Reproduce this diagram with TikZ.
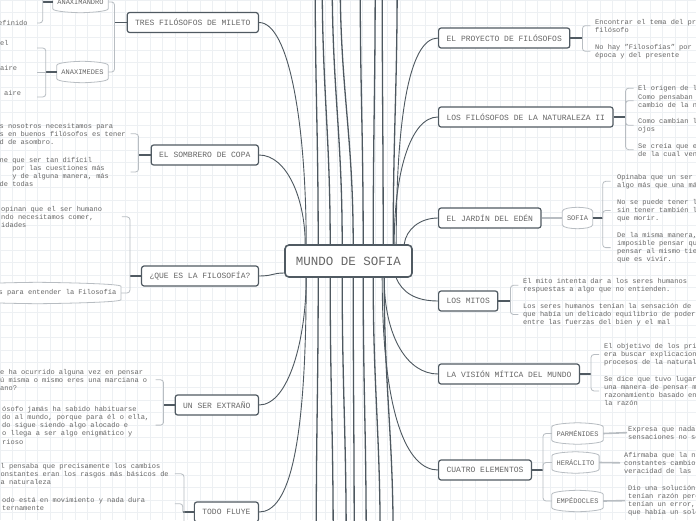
\documentclass[tikz,border=0pt]{standalone}
\usepackage{fontspec}
\setmainfont{Liberation Mono}
\usetikzlibrary{calc}
\definecolor{gridc}{HTML}{EDF0F3}
\definecolor{nodeb}{HTML}{505A62}
\definecolor{txt}{HTML}{666666}
\definecolor{brc}{HTML}{B8BDC2}
\definecolor{conn}{HTML}{4E5860}
\pgfdeclarelayer{gridl}
\pgfdeclarelayer{bg}
\pgfsetlayers{gridl,bg,main}
\newcommand{\wavy}[1]{\draw[brl,rounded corners=0pt,fill=white] ($(#1.north west)+(0,3)$) .. controls ($(#1.north west)+(0,0)$) and ($(#1.north)+(-6,-1)$) .. ($(#1.north)+(0,-1)$) .. controls ($(#1.north)+(6,-1)$) and ($(#1.north east)+(0,0)$) .. ($(#1.north east)+(0,3)$) -- ($(#1.south east)+(0,-3)$) .. controls ($(#1.south east)+(0,0)$) and ($(#1.south)+(6,1)$) .. ($(#1.south)+(0,1)$) .. controls ($(#1.south)+(-6,1)$) and ($(#1.south west)+(0,0)$) .. ($(#1.south west)+(0,-3)$) -- cycle;}
\begin{document}
\begin{tikzpicture}[x=1pt,y=-1pt,
  mainn/.style={draw=nodeb, line width=1.2pt, rounded corners=2.5pt, fill=white, text=txt, font=\fontsize{8}{9.6}\selectfont, minimum height=20pt, inner xsep=8pt, inner ysep=0pt},
  centraln/.style={draw=nodeb, line width=1.6pt, rounded corners=4pt, fill=white, text=txt, font=\fontsize{12.5}{14}\selectfont, minimum height=32pt, inner xsep=11pt, inner ysep=0pt},
  subn/.style={text=txt, font=\fontsize{7}{8}\selectfont, minimum height=19pt, inner xsep=4.5pt, inner ysep=0pt},
  leaf/.style={text=txt, font=\fontsize{7}{8.3}\selectfont, align=left, inner sep=0pt, anchor=base west},
  brl/.style={draw=brc, line width=0.8pt, rounded corners=3pt},
  link/.style={draw=nodeb, line width=1.5pt},
  lightlink/.style={draw=brc, line width=1.6pt},
  branch/.style={draw=conn, line width=0.9pt},
  far/.style={draw=conn, line width=1.3pt}]
\useasboundingbox (0,0) rectangle (696,520);
\clip (0,0) rectangle (696,520);
\begin{pgfonlayer}{gridl}
\fill[white] (0,0) rectangle (696,520);
\foreach \i in {0,...,56} \draw[gridc,line width=0.6pt] (\i*12.5,0) -- (\i*12.5,520);
\foreach \j in {0,...,42} \draw[gridc,line width=0.6pt] (0,\j*12.5) -- (696,\j*12.5);
\end{pgfonlayer}

% central and main nodes
\node[centraln] (C) at (348.5,261) {MUNDO DE SOFIA};
\node[mainn, anchor=east] (tres) at (259,22.5) {TRES FILÓSOFOS DE MILETO};
\node[mainn, anchor=east] (somb) at (259,155) {EL SOMBRERO DE COPA};
\node[mainn, anchor=east] (que) at (259,276) {¿QUE ES LA FILOSOFÍA?};
\node[mainn, anchor=east] (unser) at (259,405) {UN SER EXTRAÑO};
\node[mainn, anchor=east] (todo) at (259,512) {TODO FLUYE};
\node[mainn, anchor=west] (proy) at (438,38) {EL PROYECTO DE FILÓSOFOS};
\node[mainn, anchor=west] (nat) at (438,117) {LOS FILÓSOFOS DE LA NATURALEZA II};
\node[mainn, anchor=west] (jard) at (438,218) {EL JARDÍN DEL EDÉN};
\node[mainn, anchor=west] (mitos) at (438,301) {LOS MITOS};
\node[mainn, anchor=west] (vis) at (438,374) {LA VISIÓN MÍTICA DEL MUNDO};
\node[mainn, anchor=west] (cuat) at (438,470) {CUATRO ELEMENTOS};

% sub nodes
\node[subn] (anxd) at (80.5,2) {ANAXIMANDRO};
\node[subn] (anxm) at (82.5,72) {ANAXIMEDES};
\node[subn] (sofia) at (577.5,218) {SOFIA};
\node[subn] (parm) at (577.5,433.5) {PARMÉNIDES};
\node[subn] (herac) at (575.5,462.5) {HERÁCLITO};
\node[subn] (empe) at (577.5,501) {EMPÉDOCLES};
\node[subn, anchor=east] (q2) at (121,293) {\hspace*{40pt}s para entender la Filosofía};

% leaves right (anchor = baseline of last line)
\node[leaf] (p1) at (595,32.3) {Encontrar el tema del propio\\filósofo};
\node[leaf] (p2) at (595,57.3) {No hay "Filosofías" por encima de su\\época y del presente};
\node[leaf] (n1) at (638,90) {El origen de la vida};
\node[leaf] (n2) at (638,107.3) {Como pensaban los filósofos el\\cambio de la naturaleza};
\node[leaf] (n3) at (638,131.3) {Como cambian las cosas ante nuestros\\ojos};
\node[leaf] (n4) at (638,156.3) {Se creía que existía una sustancia\\de la cual venían todas las cosas};
\node[leaf] (s1) at (617,187.3) {Opinaba que un ser humano era\\algo más que una máquina};
\node[leaf] (s2) at (617,220.6) {No se puede tener la vida\\sin tener también la certeza de\\que morir.};
\node[leaf] (s3) at (617,261.9) {De la misma manera, es\\imposible pensar que uno\\pensar al mismo tiempo\\que es vivir.};
\node[leaf] (m1) at (523,291.3) {El mito intenta dar a los seres humanos\\respuestas a algo que no entienden.};
\node[leaf] (m2) at (523,324.6) {Los seres humanos tenían la sensación de\\que había un delicado equilibrio de poder\\entre las fuerzas del bien y el mal};
\node[leaf] (v1) at (604,364.6) {El objetivo de los primeros filósofos\\era buscar explicaciones naturales a los\\procesos de la naturaleza};
\node[leaf] (v2) at (604,405.9) {Se dice que tuvo lugar el paso de\\una manera de pensar mítica a un\\razonamiento basado en la experiencia y\\la razón};
\node[leaf] (c1) at (628,439.3) {Expresa que nada puede cambiar y las\\sensaciones no son fiables};
\node[leaf] (c2) at (624,473.6) {Afirmaba que la naturaleza tiene\\constantes cambios y confiaba en la\\veracidad de las sensaciones};
\node[leaf] (c3) at (628,514.9) {Dio una solución: ambos filósofos\\tenían razón pero ambos\\tenían un error, el de pensar\\que había un solo elemento};

% leaves left
\node[leaf] (t1) at (-2,25) {efinido};
\node[leaf] (e1) at (0,45) {el};
\node[leaf] (e2) at (0,70) {aire};
\node[leaf] (e3) at (4,95) {aire};
\node[leaf] (o1) at (-0.5,144.6) {s nosotros necesitamos para\\s en buenos filósofos es tener\\d de asombro.};
\node[leaf] (o2) at (-0.5,186.9) {ne que ser tan difícil\\\hspace*{12.6pt}por las cuestiones más\\\hspace*{12.6pt}y de alguna manera, más\\de todas};
\node[leaf] (q1) at (1,227.6) {opinan que el ser humano\\ndo necesitamos comer,\\idades};
\node[leaf] (u1) at (0,390.6) {e ha ocurrido alguna vez en pensar\\ú misma o mismo eres una marciana o\\ano?};
\node[leaf] (u2) at (2,444.2) {ósofo jamás ha sabido habituarse\\do al mundo, porque para él o ella,\\do sigue siendo algo alocado e\\o llega a ser algo enigmático y\\rioso};
\node[leaf] (f1) at (0.5,484.6) {l pensaba que precisamente los cambios\\onstantes eran los rasgos más básicos de\\a naturaleza};
\node[leaf] (f2) at (2,510.3) {odo está en movimiento y nada dura\\ternamente};

% brace coordinates
\coordinate (btres) at ($(tres.west)+(-12,0)$);
\coordinate (banxd) at ($(anxd.west)+(-10,0)$);
\coordinate (anxdtop) at (43,-20);
\coordinate (anxdt) at (37,23);
\coordinate (banxm) at ($(anxm.west)+(-11,0)$);
\coordinate (am1) at (37,48);
\coordinate (am2) at (37,72);
\coordinate (am3) at (37,97);
\coordinate (bsomb) at ($(somb.west)+(-12,0)$);
\coordinate (bque) at ($(que.west)+(-11,0)$);
\coordinate (bun) at ($(unser.west)+(-11,0)$);
\coordinate (btodo) at ($(todo.west)+(-11,0)$);
\coordinate (todobot) at (184,540);
\coordinate (bproy) at ($(proy.east)+(12,0)$);
\coordinate (bnat) at ($(nat.east)+(12,0)$);
\coordinate (bsof) at ($(sofia.east)+(10,0)$);
\coordinate (bmit) at ($(mitos.east)+(12,0)$);
\coordinate (bvis) at ($(vis.east)+(11,0)$);
\coordinate (bcuat) at ($(cuat.east)+(11,0)$);

\begin{pgfonlayer}{bg}
% far connectors
\foreach \s/\e in {34/31, 46/38, 58/48, 69/56, 79/76, 89/91, 99/98, 109/113}{
  \coordinate (top\s) at ($(C.north west)+(\e,-265)$);
  \draw[far] ($(C.north west)+(\s,0)$) .. controls +(0,-110) and +(0,110) .. (top\s);}
\foreach \s/\e in {34/32, 46/49, 58/62, 69/70, 79/82, 89/96, 100/109}{
  \coordinate (bot\s) at ($(C.south west)+(\e,265)$);
  \draw[far] ($(C.south west)+(\s,0)$) .. controls +(0,110) and +(0,-110) .. (bot\s);}
% branches
\draw[branch] (tres.east) .. controls +(30,0) and +(0,-120) .. ($(C.north west)+(22,0)$);
\draw[branch] (somb.east) .. controls +(28,0) and +(0,-45) .. ($(C.north west)+(21,0)$);
\draw[branch] (que.east) .. controls +(14,0) and +(-12,0) .. ($(C.west)+(0,12)$);
\draw[branch] ($(C.south west)+(22,0)$) .. controls +(0,60) and +(30,0) .. (unser.east);
\draw[branch] ($(C.south west)+(22,0)$) .. controls +(0,170) and +(30,0) .. (todo.east);
\draw[branch] ($(C.north west)+(112,0)$) .. controls +(0,-120) and +(-30,0) .. (proy.west);
\draw[branch] ($(C.north west)+(110,0)$) .. controls +(0,-70) and +(-28,0) .. (nat.west);
\draw[branch] ($(C.north west)+(120,0)$) .. controls +(2,-15) and +(-18,0) .. (jard.west);
\draw[branch] ($(C.south west)+(112,0)$) .. controls +(6,15) and +(-22,0) .. (mitos.west);
\draw[branch] ($(C.south west)+(100,0)$) .. controls +(0,60) and +(-30,0) .. (vis.west);
\draw[branch] ($(C.south west)+(98,0)$) .. controls +(0,140) and +(-30,0) .. (cuat.west);
% wavy sub nodes
\wavy{anxd}\wavy{anxm}\wavy{sofia}\wavy{parm}\wavy{herac}\wavy{empe}\wavy{q2}
% braces left
\draw[link] (tres.west) -- (btres);
\draw[brl] (anxd.east) -| (btres) |- (anxm.east);
\draw[link] (anxd.west) -- (banxd);
\draw[brl] (anxdtop) -- (banxd) |- (anxdt);
\draw[link] (anxm.west) -- (banxm);
\draw[brl] (am1) -| (banxm) |- (am3);
\draw[brl] (banxm) -- (am2);
\draw[link] (somb.west) -- (bsomb);
\draw[brl] ($(bsomb |- o1.east)+(-8,0)$) -| (bsomb) |- ($(bsomb |- o2.east)+(-8,0)$);
\draw[link] (que.west) -- (bque);
\draw[brl] ($(bque |- q1.east)+(-8,0)$) -| (bque) |- (q2.east);
\draw[link] (unser.west) -- (bun);
\draw[brl] ($(bun |- u1.east)+(-8,0)$) -| (bun) |- ($(bun |- u2.east)+(-8,0)$);
\draw[link] (todo.west) -- (btodo);
\draw[brl] ($(btodo |- f1.east)+(-8,0)$) -| (todobot);
\draw[brl] (btodo) |- ($(btodo |- f2.east)+(-8,0)$);
% braces right
\draw[link] (proy.east) -- (bproy);
\draw[brl] ($(bproy |- p1.west)+(8,0)$) -| (bproy) |- ($(bproy |- p2.west)+(8,0)$);
\draw[link] (nat.east) -- (bnat);
\draw[brl] ($(bnat |- n1.west)+(8,0)$) -| (bnat) |- ($(bnat |- n4.west)+(8,0)$);
\draw[brl] (bnat) |- ($(bnat |- n2.west)+(8,0)$);
\draw[brl] (bnat) |- ($(bnat |- n3.west)+(8,0)$);
\draw[lightlink] (jard.east) -- (sofia.west);
\draw[link] (sofia.east) -- (bsof);
\draw[brl] ($(bsof |- s1.west)+(8,0)$) -| (bsof) |- ($(bsof |- s3.west)+(8,0)$);
\draw[brl] (bsof) |- ($(bsof |- s2.west)+(8,0)$);
\draw[link] (mitos.east) -- (bmit);
\draw[brl] ($(bmit |- m1.west)+(8,0)$) -| (bmit) |- ($(bmit |- m2.west)+(8,0)$);
\draw[link] (vis.east) -- (bvis);
\draw[brl] ($(bvis |- v1.west)+(8,0)$) -| (bvis) |- ($(bvis |- v2.west)+(8,0)$);
\draw[link] (cuat.east) -- (bcuat);
\draw[brl] (parm.west) -| (bcuat) |- (empe.west);
\draw[brl] (bcuat) |- (herac.west);
\draw[lightlink] (parm.east) -- ($(c1.west)+(-1,0)$);
\draw[lightlink] (herac.east) -- ($(c2.west)+(-4,0)$);
\draw[lightlink] (empe.east) -- ($(c3.west)+(-3,0)$);
\end{pgfonlayer}
\end{tikzpicture}
\end{document}
